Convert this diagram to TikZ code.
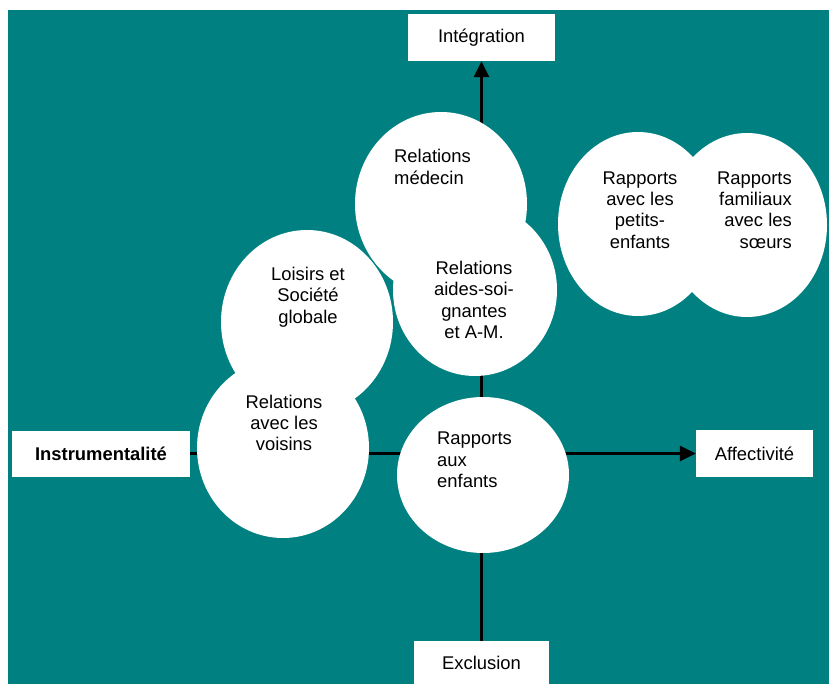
\documentclass[tikz,border=0pt]{standalone}
\usepackage{fontspec}
\setmainfont{Liberation Sans}
\usetikzlibrary{shapes.geometric,arrows.meta}
\definecolor{bgteal}{RGB}{0,128,128}
\begin{document}
\begin{tikzpicture}[x=1pt,y=-1pt,
  txt/.style={font=\fontsize{18.4}{21.3}\selectfont, inner sep=0pt, text=black},
  blob/.style={ellipse, fill=white, draw=none, inner sep=0pt},
  box/.style={rectangle, fill=white, draw=none, inner sep=0pt, txt},
  axis/.style={line width=2.5pt, draw=black, -{Triangle[length=16pt,width=15pt]}}]

% page and coloured field
\useasboundingbox (0,0) rectangle (829,684);
\fill[white] (0,0) rectangle (829,684);
\fill[bgteal] (8,10) rectangle (829,684);

% axis end labels
\node[box, minimum width=147pt, minimum height=47pt] (integration) at (481.5,37.5) {Intégration};
\node[box, minimum width=135pt, minimum height=44pt] (exclusion) at (481.5,663) {Exclusion};
\node[box, minimum width=178pt, minimum height=46pt, font=\fontsize{18.4}{21.3}\selectfont\bfseries] (instrumentalite) at (101,453.5) {Instrumentalité};
\node[box, minimum width=117pt, minimum height=47pt] (affectivite) at (754.5,453.5) {Affectivité};

% axes
\draw[axis] (exclusion.north) -- (integration.south);
\draw[line width=2.5pt] (instrumentalite.east) -- (instrumentalite.east -| exclusion.north);
\draw[axis] (instrumentalite.east -| exclusion.north) -- (affectivite.west);

% relation areas
\node[blob, minimum width=172pt, minimum height=184pt] (medecin) at (441,204) {};
\node[blob, minimum width=164pt, minimum height=172pt] (aides) at (475,290) {};
\node[blob, minimum width=172pt, minimum height=184pt] (loisirs) at (307,322) {};
\node[blob, minimum width=172pt, minimum height=180pt] (voisins) at (283,448) {};
\node[blob, minimum width=172pt, minimum height=156pt] (enfants) at (483,475) {};
\node[blob, minimum width=160pt, minimum height=184pt] (petits) at (638,224) {};
\node[blob, minimum width=160pt, minimum height=184pt] (soeurs) at (747,225) {};

% labels of the areas
\node[txt, align=left, anchor=west] (medecin-l) at (394,167) {Relations\\médecin};
\node[txt, align=center] (aides-l) at (474,300) {Relations\\aides-soi-\\gnantes\\et A-M.};
\node[txt, align=center] (loisirs-l) at (308,297) {Loisirs et\\Société\\globale};
\node[txt, align=center] (voisins-l) at (284,423) {Relations\\avec les\\voisins};
\node[txt, align=left, anchor=west] (enfants-l) at (437,460) {Rapports\\aux\\enfants};
\node[txt, align=center] (petits-l) at (640,210) {Rapports\\avec les\\petits-\\enfants};
\node[txt, align=right, anchor=east] (soeurs-l) at (792,210) {Rapports\\familiaux\\avec les\\sœurs};
\end{tikzpicture}
\end{document}
